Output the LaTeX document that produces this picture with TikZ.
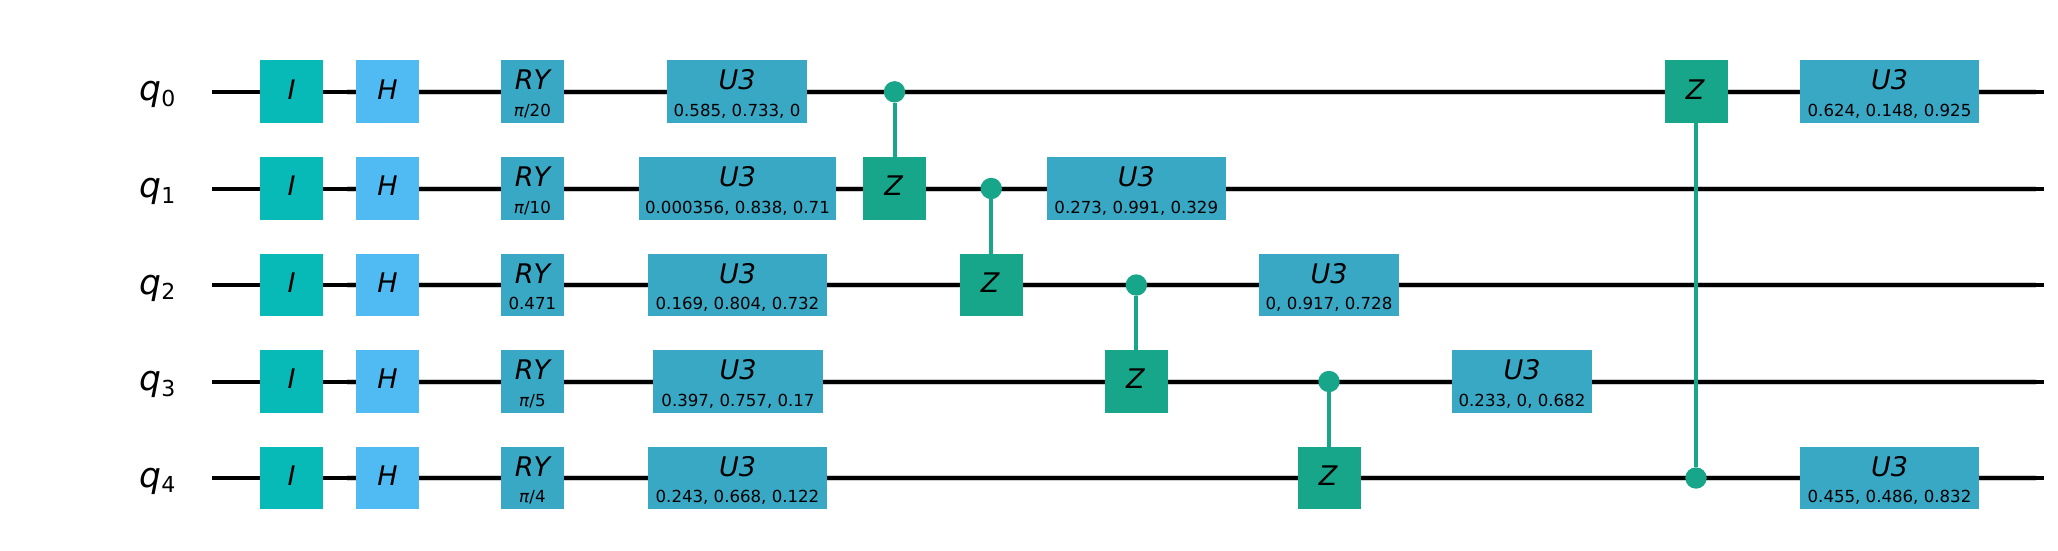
\documentclass[tikz,border=0pt]{standalone}
\usepackage{fontspec}
\setmainfont{DejaVu Sans}
\definecolor{cI}{HTML}{07BAB8}
\definecolor{cH}{HTML}{50BAF3}
\definecolor{cU}{HTML}{39A8C5}
\definecolor{cZ}{HTML}{17A68A}
\newcommand{\pgate}[7]{% name,x,y,width,colour,title,param
  \node[gatebase,fill=#5,minimum width=#4pt] (#1) at (#2,#3) {};
  \node[bigtxt,anchor=base] (#1t) at ([yshift=2pt]#1.center) {\itshape #6};
  \node[smalltxt,anchor=base] (#1p) at ([yshift=-24.5pt]#1.center) {#7};}
\newcommand{\sgate}[6][0pt]{% [text shift],name,x,y,colour,title
  \node[gatebase,fill=#5,minimum width=63pt] (#2) at (#3,#4) {};
  \node[bigtxt,anchor=base] (#2t) at ([yshift=-7.3pt,xshift=#1]#2.center) {\itshape #6};}
\newcommand{\qlab}[3]{% name,y,index
  \node[qlabel] (#1) at (175.5,#2) {\itshape q\raisebox{-5.5pt}{\fontsize{22}{22}\selectfont\upshape #3}};}
\tikzset{
  x=1pt,y=-1pt,
  gatebase/.style={draw=none,minimum height=62.6pt,inner sep=0pt,outer sep=0pt},
  bigtxt/.style={inner sep=0pt,font=\fontsize{27}{27}\selectfont},
  smalltxt/.style={inner sep=0pt,font=\fontsize{16.6}{17}\selectfont},
  qlabel/.style={inner sep=0pt,anchor=base east,font=\fontsize{34.5}{35}\selectfont},
  wire/.style={line width=4pt,black},
  halo/.style={line width=6pt,black!20},
  ctl/.style={line width=4pt,cZ},
  ctldot/.style={circle,fill=cZ,draw=none,minimum size=21.4pt,inner sep=0pt,outer sep=0pt}
}
\begin{document}
\begin{tikzpicture}
\useasboundingbox (0,0) rectangle (2058,551);
% wires
\foreach \r/\yy in {0/91.8,1/188.5,2/285,3/381.5,4/478}{
  \coordinate (s\r) at (212,\yy);
  \coordinate (g\r) at (347,\yy);
  \coordinate (f\r) at (2036,\yy);
  \coordinate (e\r) at (2044,\yy);
  \draw[halo] (g\r) -- (f\r);
  \draw[wire] (s\r) -- (e\r);
  \sgate{I\r}{291.5}{\yy}{cI}{I}
  \sgate{H\r}{387.5}{\yy}{cH}{H}
}
\qlab{q0}{100.8}{0}
\qlab{q1}{197.5}{1}
\qlab{q2}{294}{2}
\qlab{q3}{390.5}{3}
\qlab{q4}{487}{4}
% RY
\pgate{R0}{532.4}{91.8}{63}{cU}{RY}{\textit{π}/20}
\pgate{R1}{532.4}{188.5}{63}{cU}{RY}{\textit{π}/10}
\pgate{R2}{532.4}{285}{63}{cU}{RY}{0.471}
\pgate{R3}{532.4}{381.5}{63}{cU}{RY}{\textit{π}/5}
\pgate{R4}{532.4}{478}{63}{cU}{RY}{\textit{π}/4}
% U3 first column
\pgate{U0}{737}{91.8}{140}{cU}{U3}{0.585, 0.733, 0}
\pgate{U1}{737.5}{188.5}{197}{cU}{U3}{0.000356, 0.838, 0.71}
\pgate{U2}{737.5}{285}{179}{cU}{U3}{0.169, 0.804, 0.732}
\pgate{U3}{738}{381.5}{170}{cU}{U3}{0.397, 0.757, 0.17}
\pgate{U4}{737.5}{478}{179}{cU}{U3}{0.243, 0.668, 0.122}
% CZ chain
\sgate[-1pt]{Z1}{894.5}{188.5}{cZ}{Z}
\node[ctldot] (D0) at (894.5,91.8) {};
\draw[ctl] (D0) -- (Z1);
\sgate[-1pt]{Z2}{991.2}{285}{cZ}{Z}
\node[ctldot] (D1) at (991.2,188.5) {};
\draw[ctl] (D1) -- (Z2);
\sgate[-1pt]{Z3}{1136.3}{381.5}{cZ}{Z}
\node[ctldot] (D2) at (1136.3,285) {};
\draw[ctl] (D2) -- (Z3);
\sgate[-1pt]{Z4}{1329}{478}{cZ}{Z}
\node[ctldot] (D3) at (1329,381.5) {};
\draw[ctl] (D3) -- (Z4);
\sgate[-1pt]{Z0}{1696}{91.8}{cZ}{Z}
\node[ctldot] (D4) at (1696,478) {};
\draw[ctl] (D4) -- (Z0);
% later U3
\pgate{V1}{1136.3}{188.5}{179}{cU}{U3}{0.273, 0.991, 0.329}
\pgate{V2}{1329}{285}{140.5}{cU}{U3}{0, 0.917, 0.728}
\pgate{V3}{1522}{381.5}{140.5}{cU}{U3}{0.233, 0, 0.682}
\pgate{V0}{1889.5}{91.8}{179}{cU}{U3}{0.624, 0.148, 0.925}
\pgate{V4}{1889.5}{478}{179}{cU}{U3}{0.455, 0.486, 0.832}
\end{tikzpicture}
\end{document}
